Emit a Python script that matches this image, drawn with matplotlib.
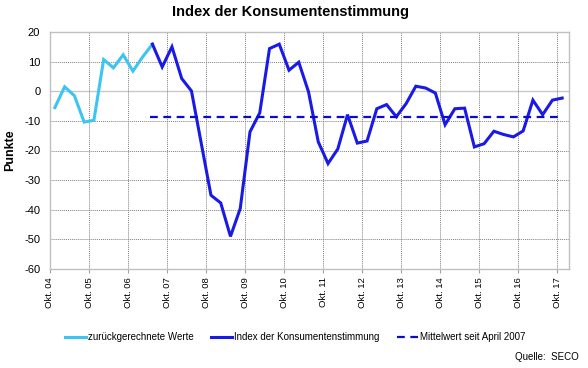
import matplotlib
matplotlib.use("Agg")
import matplotlib.pyplot as plt
import numpy as np

plt.rcParams['font.family'] = ['Liberation Sans', 'DejaVu Sans']

# quarterly survey months (Nov 2004 .. May 2007) back-calculated values
back_start = (2004, 11)
back_values = [-5.5, 1.5, -1.5, -10.4, -9.8, 10.7, 7.9, 12.3, 6.8, 11.6, 15.9]

# index from May 2007 to Nov 2017
index_start = (2007, 5)
index_values = [15.9, 8.2, 15.0,
                4.3, 0.1, -17.5, -35.1,
                -37.7, -49.0, -39.6, -13.7,
                -7.3, 14.4, 15.9, 7.1,
                9.8, -0.2, -17.1, -24.4,
                -19.5, -7.9, -17.5, -16.8,
                -5.9, -4.5, -8.6, -4.2,
                1.7, 1.1, -0.6, -11.3,
                -5.9, -5.7, -18.8, -17.7,
                -13.5, -14.6, -15.4, -13.4,
                -3.0, -7.9, -3.0, -2.3]

mean_since_2007 = -8.6

tick_years = list(range(2004, 2018))
tick_labels = ["Okt. %02d" % (y % 100) for y in tick_years]

def quarter_dates(start, n):
    y, m = start
    base = y + (m - 0.5) / 12.0
    return base + 0.25 * np.arange(n)

x_back = quarter_dates(back_start, len(back_values))
x_idx = quarter_dates(index_start, len(index_values))

fig = plt.figure(figsize=(5.88, 3.68), dpi=100)
ax = fig.add_axes([50/588, 1-269/368, (569-50)/588, (269-32)/368])

light = "#3cc4f2"
dark = "#1a1ae6"
dash_c = "#0a0acc"

# grid
for v in range(-60, 21, 10):
    if v == 0:
        ax.axhline(v, color="#c8c8c8", lw=1.0, zorder=1)
    else:
        ax.axhline(v, color="#808080", lw=0.7, ls=(0, (1, 1)), zorder=1)
tick_pos = [y + 0.75 for y in tick_years]
for t in tick_pos:
    ax.axvline(t, color="#808080", lw=0.7, ls=(0, (1, 1)), zorder=1)

ax.plot(x_back, back_values, color=light, lw=2.2, zorder=3, label="zurückgerechnete Werte",
        solid_joinstyle="miter")
ax.plot(x_idx, index_values, color=dark, lw=2.2, zorder=3, label="Index der Konsumentenstimmung",
        solid_joinstyle="miter")
ax.plot([x_idx[0] - 0.05, x_idx[-1]], [mean_since_2007, mean_since_2007], color=dash_c, lw=1.6,
        ls=(0, (3.5, 2.5)), zorder=4, label="Mittelwert seit April 2007")

ax.set_xlim(2004.75, 2018.05)
ax.set_ylim(-60, 20)
ax.set_yticks(range(-60, 21, 10))
ax.set_yticklabels([str(v) for v in range(-60, 21, 10)], fontsize=8)
ax.set_xticks(tick_pos)
ax.set_xticklabels(tick_labels, rotation=90, fontsize=6.8)
ax.tick_params(axis='y', length=0, pad=7)
ax.tick_params(axis='x', length=3, color="#a0a0a0", pad=3)
for s in ax.spines.values():
    s.set_color("#c0c0c0")
    s.set_linewidth(1.0)

ax.set_ylabel("Punkte", fontsize=9, fontweight="bold", labelpad=6)

fig.text(290/588, 1-12/368, "Index der Konsumentenstimmung", fontsize=10.5, fontweight="bold",
         ha="center", va="center")

fig.legend(loc="center", bbox_to_anchor=(295/588, 1-337.5/368), ncol=3, frameon=False,
           fontsize=7, handlelength=2.2, handletextpad=0.15, columnspacing=1.8)

fig.text(579/588, 1-357/368, "Quelle:  SECO", fontsize=7, ha="right", va="center")

fig.savefig("out.png", dpi=100)
